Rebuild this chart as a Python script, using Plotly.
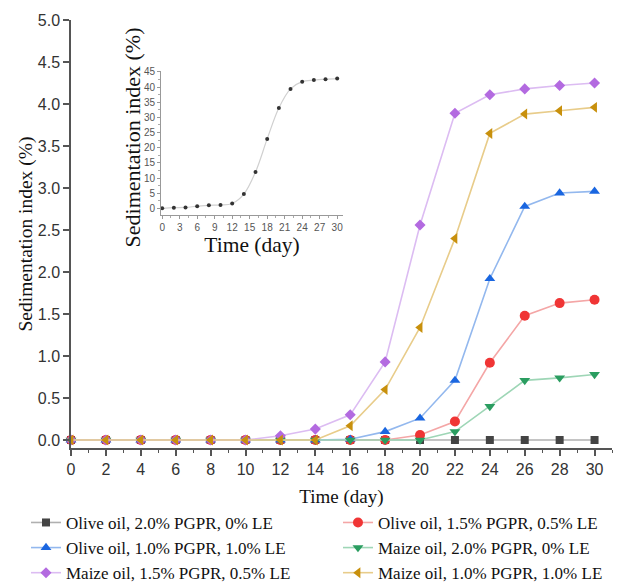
import plotly.graph_objects as go

days = [0, 2, 4, 6, 8, 10, 12, 14, 16, 18, 20, 22, 24, 26, 28, 30]

names = [
    "Olive oil, 2.0% PGPR, 0% LE",
    "Olive oil, 1.5% PGPR, 0.5% LE",
    "Olive oil, 1.0% PGPR, 1.0% LE",
    "Maize oil, 2.0% PGPR, 0% LE",
    "Maize oil, 1.5% PGPR, 0.5% LE",
    "Maize oil, 1.0% PGPR, 1.0% LE",
]

olive_20_0 = [0, 0, 0, 0, 0, 0, 0, 0, 0, 0, 0, 0, 0, 0, 0, 0]
olive_15_05 = [0, 0, 0, 0, 0, 0, 0, 0, 0, 0, 0.06, 0.22, 0.92, 1.48, 1.63, 1.67]
olive_10_10 = [0, 0, 0, 0, 0, 0, 0, 0, 0.01, 0.10, 0.26, 0.71, 1.92, 2.78, 2.94, 2.96]
maize_20_0 = [0, 0, 0, 0, 0, 0, 0, 0, 0, 0, 0, 0.10, 0.40, 0.71, 0.74, 0.78]
maize_15_05 = [0, 0, 0, 0, 0, 0, 0.05, 0.13, 0.30, 0.93, 2.56, 3.89, 4.11, 4.18, 4.22, 4.25]
maize_10_10 = [0, 0, 0, 0, 0, 0, 0, 0, 0.17, 0.60, 1.34, 2.40, 3.65, 3.88, 3.92, 3.96]

inset_days = [0, 2, 4, 6, 8, 10, 12, 14, 16, 18, 20, 22, 24, 26, 28, 30]
inset_values = [0, 0.2, 0.3, 0.7, 1.0, 1.1, 1.6, 4.7, 12.0, 22.9, 33.1, 39.4, 41.8, 42.3, 42.6, 42.8]

y_title = "Sedimentation index (%)"
x_title = "Time (day)"

series = [olive_20_0, olive_15_05, olive_10_10, maize_20_0, maize_15_05, maize_10_10]
marker_colors = ["#444444", "#f03535", "#1a66e0", "#2a9d60", "#b36ae0", "#c8900c"]
line_colors = ["#b0b0b0", "#f4a6a6", "#93b8ee", "#9ed6b6", "#dcbcf2", "#e8cc8a"]
symbols = ["square", "circle", "triangle-up", "triangle-down", "diamond", "triangle-left"]
sizes = [8, 10, 9.5, 9.5, 8.5, 9.5]
legend_ids = ["legend", "legend2", "legend", "legend2", "legend", "legend2"]

serif = "Liberation Serif"
sans = "Liberation Sans"

fig = go.Figure()
for name, vals, mc, lc, sym, sz, lg in zip(names, series, marker_colors, line_colors, symbols, sizes, legend_ids):
    fig.add_trace(go.Scatter(
        x=days, y=vals, name=name, mode="lines+markers",
        line=dict(color=lc, width=1.6),
        marker=dict(color=mc, symbol=sym, size=sz, line=dict(width=0)),
        cliponaxis=False, xaxis="x", yaxis="y", legend=lg,
    ))

fig.add_trace(go.Scatter(
    x=inset_days, y=inset_values, mode="lines+markers", showlegend=False,
    line=dict(color="#d0d0d0", width=1.2, shape="spline"),
    marker=dict(color="#333333", size=4),
    cliponaxis=False, xaxis="x2", yaxis="y2",
))

axis_col = "#555555"
legend_style = dict(
    orientation="v", xanchor="left", yanchor="top",
    font=dict(family=serif, size=17, color="#111111"),
    bgcolor="rgba(0,0,0,0)", tracegroupgap=0, traceorder="normal",
)
fig.update_layout(
    width=638, height=583,
    margin=dict(l=63, r=34, t=12, b=143, autoexpand=False),
    paper_bgcolor="white", plot_bgcolor="white",
    showlegend=True,
    xaxis=dict(
        range=[0, 31], dtick=2, tick0=0, showgrid=False, zeroline=False,
        showline=True, linecolor=axis_col, linewidth=1.5,
        ticks="outside", ticklen=6, tickwidth=1.5, tickcolor=axis_col,
        minor=dict(dtick=1, tick0=0, ticks="outside", ticklen=3, tickwidth=1.2, tickcolor=axis_col),
        tickfont=dict(family=sans, size=16, color="#333333"),
        title=dict(text=x_title, font=dict(family=serif, size=19, color="#111111"), standoff=13),
        automargin=False,
    ),
    yaxis=dict(
        range=[-0.095, 5.0], dtick=0.5, tick0=0, tickformat=".1f", showgrid=False, zeroline=False,
        showline=True, linecolor=axis_col, linewidth=1.5,
        ticks="outside", ticklen=6, tickwidth=1.5, tickcolor=axis_col,
        tickfont=dict(family=sans, size=16, color="#333333"),
        title=dict(text=y_title, font=dict(family=serif, size=19.5, color="#111111"), standoff=0),
        automargin=False,
    ),
    xaxis2=dict(
        domain=[0.1664, 0.5028], anchor="y2", range=[-0.2, 31], dtick=3, tick0=0,
        showgrid=False, zeroline=False, showline=True, linecolor="#999999", linewidth=1,
        ticks="outside", ticklen=3, tickcolor="#999999",
        minor=dict(dtick=1.5, tick0=0, ticks="outside", ticklen=2, tickcolor="#aaaaaa"),
        tickfont=dict(family=sans, size=10, color="#555555"),
        title=dict(text=x_title, font=dict(family=serif, size=21.5, color="#111111"), standoff=2),
        automargin=False,
    ),
    yaxis2=dict(
        domain=[0.5444, 0.8808], anchor="x2", range=[-2.2, 45.3], dtick=5, tick0=0,
        showgrid=False, zeroline=False, showline=True, linecolor="#999999", linewidth=1,
        ticks="outside", ticklen=3, tickcolor="#999999",
        minor=dict(dtick=2.5, tick0=0, ticks="outside", ticklen=2, tickcolor="#aaaaaa"),
        tickfont=dict(family=sans, size=10, color="#555555"),
        automargin=False,
    ),
    annotations=[dict(
        text=y_title, textangle=-90, xref="paper", yref="paper",
        x=0.1145, y=0.7255, xanchor="center", yanchor="middle", showarrow=False,
        font=dict(family=serif, size=22, color="#111111"),
    )],
    legend=dict(x=-0.0832, y=-0.133, **legend_style),
    legend2=dict(x=0.4935, y=-0.133, **legend_style),
)

fig.write_html("out.html")
